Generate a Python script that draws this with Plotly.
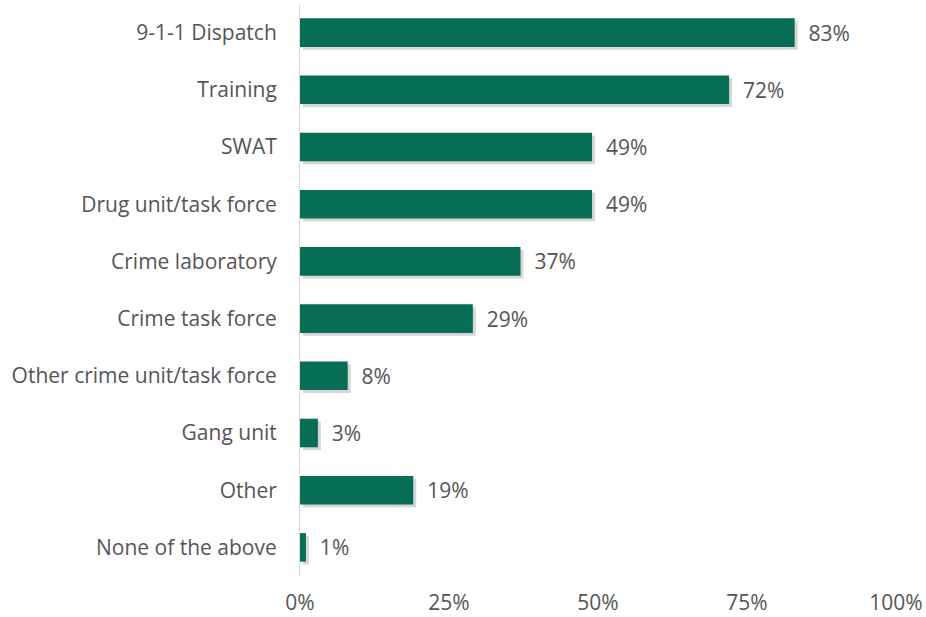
import plotly.graph_objects as go

categories = ["9-1-1 Dispatch", "Training", "SWAT", "Drug unit/task force",
              "Crime laboratory", "Crime task force", "Other crime unit/task force",
              "Gang unit", "Other", "None of the above"]
values = [83, 72, 49, 49, 37, 29, 8, 3, 19, 1]
x_ticks = [0, 25, 50, 75, 100]
x_tick_labels = ["0%", "25%", "50%", "75%", "100%"]

ypos = list(range(len(categories)))
font_fam = "'Open Sans', sans-serif"
txt_col = "#555555"
fs = 21

fig = go.Figure()
# soft shadow
fig.add_trace(go.Bar(
    x=values, y=ypos, orientation="h", base=0.5, width=0.5, offset=-0.2,
    marker=dict(color="rgba(0,0,0,0.16)", line=dict(width=0)),
    hoverinfo="skip", showlegend=False))
fig.add_trace(go.Bar(
    x=values, y=ypos, orientation="h", width=0.5,
    marker=dict(color="#086D55", line=dict(width=0)),
    text=[f"  {v}%" for v in values], textposition="outside",
    textfont=dict(size=fs, color=txt_col, family=font_fam),
    cliponaxis=False, showlegend=False))

fig.update_layout(
    width=926, height=617, barmode="overlay",
    margin=dict(l=300, r=30, t=4, b=41),
    plot_bgcolor="white", paper_bgcolor="white",
    font=dict(family=font_fam, size=fs, color=txt_col),
    xaxis=dict(range=[0, 100], tickvals=x_ticks, ticktext=x_tick_labels,
               showgrid=False, zeroline=False, showline=False, automargin=False,
               tickfont=dict(size=fs, color=txt_col), ticks="outside",
               ticklen=8, tickcolor="rgba(0,0,0,0)"),
    yaxis=dict(tickvals=ypos, ticktext=categories, range=[9.5, -0.5],
               showgrid=False, zeroline=False, showline=True, automargin=False,
               linecolor="#D9D9D9", linewidth=1,
               tickfont=dict(size=fs, color=txt_col), ticks="outside",
               ticklen=18, tickcolor="rgba(0,0,0,0)"),
)
fig.write_html("out.html", config={"displayModeBar": False},
               post_script="document.body.style.margin='0';document.body.style.overflow='hidden';")
